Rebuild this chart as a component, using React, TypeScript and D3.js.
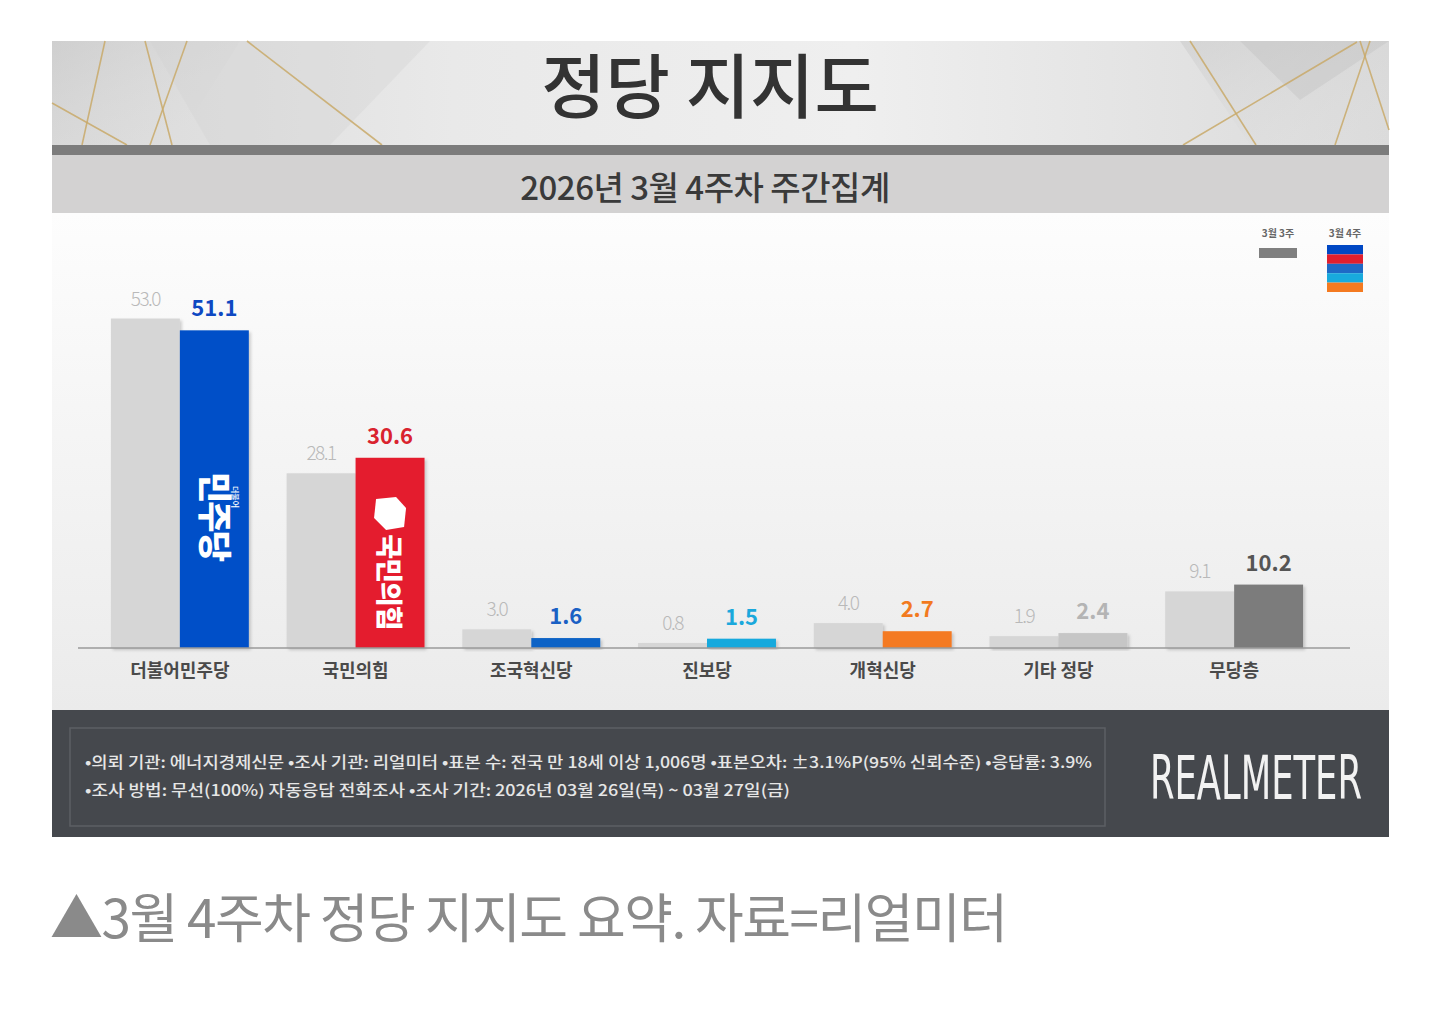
import React from "react";
import * as d3 from "d3";

const categories = ["더불어민주당", "국민의힘", "조국혁신당", "진보당", "개혁신당", "기타 정당", "무당층"];
const prevWeek = [53.0, 28.1, 3.0, 0.8, 4.0, 1.9, 9.1];
const currWeek = [51.1, 30.6, 1.6, 1.5, 2.7, 2.4, 10.2];
const currColors = ["#0050c8", "#e41d2d", "#0f63c6", "#16a9dd", "#f47a20", "#c6c6c6", "#7c7c7c"];
const labelColors = ["#0e48c2", "#d9232e", "#1a60c4", "#1aa8dc", "#f27a1e", "#b4b4b4", "#555555"];
const seriesNames = ["3월 3주", "3월 4주"];
const legendStripes = ["#0048c4", "#e11f2e", "#1e6ac6", "#18aadd", "#f47a20"];

const footerLines = [
  "•의뢰 기관: 에너지경제신문  •조사 기관: 리얼미터 •표본 수: 전국 만 18세 이상 1,006명 •표본오차: ±3.1%P(95% 신뢰수준) •응답률: 3.9%",
  "•조사 방법: 무선(100%) 자동응답 전화조사 •조사 기간: 2026년 03월 26일(목) ~ 03월 27일(금)",
];

const KR = "'Noto Sans CJK KR', 'Noto Sans', sans-serif";

export default function App() {
  const W = 1440;
  const H = 1012;
  const left = 52;
  const right = 1389;
  const baseY = 648;

  const x = d3.scaleBand<string>().domain(categories).range([92, 1322]).paddingInner(0.215).paddingOuter(0.1075);
  const sub = d3.scaleBand<string>().domain(["prev", "curr"]).range([0, x.bandwidth()]).padding(0);
  const y = d3.scaleLinear().domain([0, 60]).range([baseY, 275]);

  const gold = "#c9aa6a";
  const goldLines: [number, number, number, number][] = [
    [52, 103, 127, 145], [105, 41, 82, 145], [145, 41, 172, 145], [187, 41, 150, 145],
    [247, 41, 382, 145], [1190, 41, 1256, 145], [1357, 42, 1183, 145], [1370, 41, 1335, 145],
    [1360, 41, 1389, 130],
  ];

  return (
    <svg width={W} height={H} viewBox={`0 0 ${W} ${H}`} style={{ position: "absolute", left: 0, top: 0, background: "#fff" }}>
      <defs>
        <linearGradient id="hdr" x1="0" y1="0" x2="1" y2="0">
          <stop offset="0%" stopColor="#d9d9d9" />
          <stop offset="30%" stopColor="#e9e9e9" />
          <stop offset="60%" stopColor="#efefef" />
          <stop offset="100%" stopColor="#dadada" />
        </linearGradient>
        <linearGradient id="plane" x1="0" y1="0" x2="1" y2="1">
          <stop offset="0%" stopColor="#c4c4c4" stopOpacity={0.8} />
          <stop offset="100%" stopColor="#e6e6e6" stopOpacity={0.2} />
        </linearGradient>
        <linearGradient id="area" x1="0" y1="0" x2="0" y2="1">
          <stop offset="0%" stopColor="#fdfdfd" />
          <stop offset="100%" stopColor="#ebebeb" />
        </linearGradient>
        <filter id="shadow" x="-10%" y="-10%" width="130%" height="130%">
          <feDropShadow dx="2" dy="2" stdDeviation="1.5" floodColor="#000" floodOpacity="0.18" />
        </filter>
      </defs>

      {/* header */}
      <rect x={left} y={41} width={right - left} height={104} fill="url(#hdr)" />
      <polygon points="52,41 240,41 175,145 52,145" fill="url(#plane)" opacity={0.6} />
      <polygon points="150,41 430,41 330,145 210,145" fill="#d0d0d0" opacity={0.35} />
      <polygon points="1180,41 1389,41 1389,145 1250,145" fill="url(#plane)" opacity={0.55} />
      <polygon points="1240,41 1389,41 1300,100" fill="#bcbcbc" opacity={0.35} />
      {goldLines.map((l, i) => (
        <line key={i} x1={l[0]} y1={l[1]} x2={l[2]} y2={l[3]} stroke={gold} strokeWidth={1.6} opacity={0.85} />
      ))}
      <text x={710} y={113} textAnchor="middle" fontFamily={KR} fontWeight={500} fontSize={70} fill="#333">
        정당 지지도
      </text>
      <rect x={left} y={145} width={right - left} height={10} fill="#7c7c7c" />
      <rect x={left} y={155} width={right - left} height={58} fill="#d3d2d2" />
      <text x={705} y={200} textAnchor="middle" fontFamily={KR} fontWeight={500} fontSize={33} fill="#3a3a3a"
        letterSpacing={-0.5}>
        2026년 3월 4주차 주간집계
      </text>

      {/* chart area */}
      <rect x={left} y={213} width={right - left} height={497} fill="url(#area)" />

      {/* legend */}
      <text x={1278} y={237} textAnchor="middle" fontFamily={KR} fontWeight={700} fontSize={10} fill="#666">{seriesNames[0]}</text>
      <rect x={1259} y={248} width={38} height={10} fill="#7f7f7f" />
      <text x={1345} y={237} textAnchor="middle" fontFamily={KR} fontWeight={700} fontSize={10} fill="#666">{seriesNames[1]}</text>
      {legendStripes.map((c, i) => (
        <rect key={c} x={1327} y={245 + i * 9.4} width={36} height={9.4} fill={c} />
      ))}

      {/* bars */}
      {categories.map((cat, i) => {
        const gx = x(cat)!;
        const bw = sub.bandwidth();
        const px = gx + sub("prev")!;
        const cx = gx + sub("curr")!;
        return (
          <g key={cat}>
            <rect x={px} y={y(prevWeek[i])} width={bw} height={baseY - y(prevWeek[i])} fill="#d6d6d6" filter="url(#shadow)" />
            <rect x={cx} y={y(currWeek[i])} width={bw} height={baseY - y(currWeek[i])} fill={currColors[i]} filter="url(#shadow)" />
            <text x={px + bw / 2} y={y(prevWeek[i]) - 13} textAnchor="middle" fontFamily={KR} fontWeight={300}
              fontSize={19} letterSpacing={-1.5} fill="#b9b9b9">
              {prevWeek[i].toFixed(1)}
            </text>
            <text x={cx + bw / 2} y={y(currWeek[i]) - 14} textAnchor="middle" fontFamily={KR} fontWeight={700}
              fontSize={22} fill={labelColors[i]}>
              {currWeek[i].toFixed(1)}
            </text>
            <text x={gx + x.bandwidth() / 2} y={677} textAnchor="middle" fontFamily={KR} fontWeight={700}
              fontSize={18} fill="#4a4a4a">
              {cat}
            </text>
          </g>
        );
      })}
      <line x1={78} x2={1350} y1={baseY} y2={baseY} stroke="#9a9a9a" strokeWidth={1.5} />

      {/* party marks inside bars */}
      {(() => {
        const bw = sub.bandwidth();
        const c0 = x(categories[0])! + sub("curr")! + bw / 2;
        const c1 = x(categories[1])! + sub("curr")! + bw / 2;
        return (
          <g fill="#fff" fontFamily={KR} fontWeight={900}>
            <text transform={`translate(${c0 - 12},516) rotate(90)`} textAnchor="middle" fontSize={34} letterSpacing={-2}>민주당</text>
            <text transform={`translate(${c0 + 18},497) rotate(90)`} textAnchor="middle" fontSize={8} fontWeight={500}>더불어</text>
            <path d={`M${c1 - 14},${499} L${c1 + 6},${497} L${c1 + 16},${508} L${c1 + 14},${527} L${c1 - 4},${530} L${c1 - 16},${518} Z`} />
            <text transform={`translate(${c1 - 11},582) rotate(90)`} textAnchor="middle" fontSize={27} letterSpacing={-1}>국민의힘</text>
          </g>
        );
      })()}

      {/* footer */}
      <rect x={left} y={710} width={right - left} height={127} fill="#45484d" />
      <rect x={70} y={728} width={1035} height={98} fill="none" stroke="#5c5f64" strokeWidth={1.5} />
      {footerLines.map((t, i) => (
        <text key={i} x={85} y={768 + i * 28} fontFamily={KR} fontWeight={500} fontSize={15.5} fill="#e6e6e6"
          textLength={i === 0 ? 1007 : 705} lengthAdjust="spacingAndGlyphs">
          {t}
        </text>
      ))}
      <text transform="translate(1150,799) scale(1,1.42)" fontFamily="'Liberation Sans Narrow', 'DejaVu Sans Condensed', sans-serif"
        fontSize={42} fill="#f2f2f2" textLength={212} lengthAdjust="spacingAndGlyphs">
        REALMETER
      </text>

      {/* caption */}
      <text x={50} y={938} fontFamily={KR} fontWeight={400} fontSize={53} fill="#8a8a8a" letterSpacing={-1.5}>
        ▲3월 4주차 정당 지지도 요약. 자료=리얼미터
      </text>
    </svg>
  );
}
